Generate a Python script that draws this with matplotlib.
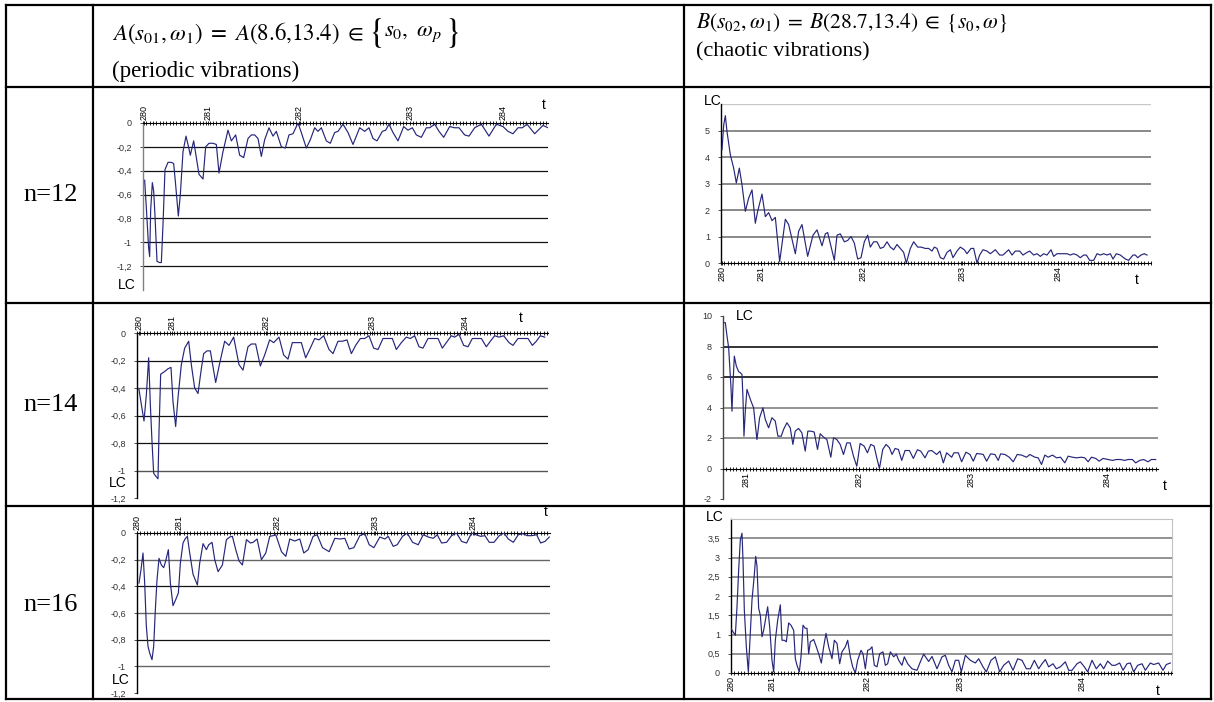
import matplotlib
matplotlib.use("Agg")
import matplotlib.pyplot as plt
from matplotlib.ticker import MultipleLocator, FixedLocator, FuncFormatter

W, H = 1214, 702
LINE = "#26267a"

plt.rcParams['mathtext.fontset'] = 'stix'
plt.rcParams['font.family'] = ['Liberation Sans', 'DejaVu Sans']

# ---- data: sample index along the category axis and LC value ----
# row n=12, periodic (A)
a12_k = [0.5, 1.0, 1.7, 2.0, 2.3, 2.8, 3.2, 3.6, 4.2, 5.0,
         5.5, 6.0, 6.6, 7.5, 8.5, 9.2, 9.8, 10.6, 11.2, 12.0,
         12.9, 13.5, 14.2, 15.2, 16.0, 16.8, 18.0, 18.8, 19.8, 21.0,
         22.0, 22.8, 24.0, 25.5, 26.5, 27.8, 29.0, 30.2, 31.5, 32.5,
         33.5, 34.5, 35.5, 36.5, 37.8, 39.0, 40.0, 41.5, 42.7, 43.8,
         45.0, 46.5, 47.5, 49.0, 50.2, 51.5, 52.5, 53.5, 55.0, 56.2,
         57.5, 58.5, 60.0, 61.5, 63.0, 65.0, 66.5, 67.8, 69.0, 70.2,
         71.8, 72.8, 73.8, 75.0, 76.5, 78.2, 79.5, 80.8, 82.0, 83.5,
         85.0, 86.0, 87.5, 88.8, 90.2, 92.0, 93.5, 94.8, 96.5, 97.8,
         99.5, 101.5, 103.8, 106.0, 108.0, 109.5, 111.0, 112.5, 113.8, 115.2,
         117.5, 120.0, 121.5]
a12_lc = [-0.48, -0.71, -1.05, -1.12, -0.73, -0.50, -0.57, -0.78, -1.16, -1.17,
          -1.17, -0.85, -0.39, -0.33, -0.33, -0.34, -0.52, -0.78, -0.60, -0.24,
          -0.11, -0.18, -0.27, -0.15, -0.29, -0.43, -0.47, -0.20, -0.17, -0.17,
          -0.18, -0.42, -0.24, -0.06, -0.15, -0.10, -0.27, -0.29, -0.13, -0.10,
          -0.10, -0.13, -0.28, -0.14, -0.04, -0.11, -0.07, -0.20, -0.21, -0.10,
          -0.09, 0.0, -0.08, -0.21, -0.14, -0.04, -0.07, -0.04, -0.15, -0.17,
          -0.08, -0.07, -0.01, -0.08, -0.18, -0.04, -0.07, -0.04, -0.13, -0.15,
          -0.07, -0.06, -0.01, -0.08, -0.15, -0.03, -0.06, -0.04, -0.10, -0.12,
          -0.04, -0.04, -0.01, -0.07, -0.12, -0.03, -0.04, -0.04, -0.10, -0.11,
          -0.04, -0.01, -0.11, -0.01, -0.03, -0.07, -0.09, -0.04, -0.04, -0.01,
          -0.09, -0.02, -0.04]
a12_tick_k = [0.2, 19.5, 46.7, 80.0, 108.0]

# row n=12, chaotic (B)
b12_k = [0.3, 0.8, 1.3, 1.8, 2.8, 3.8, 4.6, 5.5, 6.3, 7.3,
         8.3, 9.3, 10.3, 11.0, 12.3, 13.3, 14.3, 15.3, 16.3, 17.6,
         19.3, 20.3, 22.3, 23.3, 24.3, 26.0, 27.6, 28.8, 30.3, 31.3,
         32.0, 34.0, 34.8, 35.8, 37.0, 38.0, 39.0, 40.0, 41.0, 42.0,
         43.0, 44.0, 44.8, 45.8, 46.8, 47.8, 48.8, 49.8, 50.8, 51.8,
         52.8, 53.8, 54.8, 55.6, 56.8, 57.8, 59.0, 60.0, 61.3, 62.3,
         63.3, 64.0, 64.8, 65.8, 66.8, 67.8, 68.8, 69.6, 70.8, 71.8,
         73.0, 73.8, 75.0, 75.8, 76.8, 77.6, 78.6, 79.8, 80.8, 82.3,
         83.6, 84.6, 86.3, 87.3, 88.3, 89.6, 90.6, 91.8, 92.6, 93.8,
         94.8, 95.8, 96.8, 97.8, 99.0, 99.8, 100.8, 102.3, 103.8, 104.8,
         105.8, 106.8, 107.8, 108.8, 109.6, 110.6, 111.8, 112.8, 113.8, 114.8,
         115.8, 116.8, 117.6, 118.6, 119.8, 121.3, 122.3, 123.6, 124.3, 125.0,
         126.0, 127.0, 127.8]
b12_lc = [4.27, 5.2, 5.56, 4.96, 4.08, 3.58, 3.02, 3.58, 2.95, 1.95,
          2.45, 2.76, 1.5, 1.95, 2.6, 1.75, 1.9, 1.6, 1.72, 0.05,
          1.65, 1.45, 0.35, 1.2, 1.45, 0.25, 1.05, 1.25, 0.65, 1.1,
          1.15, 0.1, 1.05, 1.1, 0.8, 0.85, 1.0, 0.75, 0.15, 0.2,
          0.8, 1.05, 0.6, 0.8, 0.8, 0.55, 0.6, 0.8, 0.6, 0.5,
          0.7, 0.55, 0.4, 0.0, 0.55, 0.8, 0.6, 0.6, 0.55, 0.55,
          0.45, 0.6, 0.55, 0.2, 0.15, 0.4, 0.5, 0.2, 0.45, 0.6,
          0.5, 0.35, 0.55, 0.55, 0.0, 0.3, 0.5, 0.45, 0.35, 0.5,
          0.3, 0.3, 0.5, 0.3, 0.45, 0.45, 0.3, 0.4, 0.45, 0.3,
          0.35, 0.25, 0.35, 0.3, 0.5, 0.25, 0.35, 0.35, 0.35, 0.3,
          0.35, 0.3, 0.2, 0.3, 0.3, 0.1, 0.1, 0.35, 0.3, 0.35,
          0.3, 0.35, 0.15, 0.35, 0.3, 0.15, 0.1, 0.3, 0.3, 0.2,
          0.3, 0.35, 0.3]
b12_tick_k = [0.3, 12.1, 42.6, 72.3, 101.1]

# row n=14, periodic (A)
a14_k = [0.6, 1.3, 2.1, 2.8, 3.5, 4.0, 4.5, 5.0, 5.6, 6.3,
         6.6, 7.1, 8.3, 9.3, 10.2, 10.8, 11.6, 12.3, 13.3, 14.3,
         15.5, 16.3, 17.3, 18.3, 19.3, 20.0, 21.0, 22.0, 23.6, 24.8,
         26.3, 27.6, 29.0, 30.6, 31.8, 33.3, 34.3, 35.6, 37.0, 38.3,
         39.8, 41.0, 42.6, 44.0, 45.3, 46.6, 47.8, 49.3, 50.6, 52.0,
         53.3, 54.6, 56.0, 57.6, 58.8, 60.3, 61.6, 63.0, 64.3, 65.6,
         67.0, 68.3, 69.6, 71.0, 72.3, 73.8, 75.3, 76.6, 77.8, 79.3,
         80.8, 82.0, 83.3, 84.6, 85.8, 87.3, 88.8, 90.3, 91.6, 92.8,
         94.3, 95.3, 96.6, 98.0, 99.3, 100.6, 101.8, 103.3, 104.8, 106.0,
         107.3, 108.6, 110.0, 111.6, 112.8, 114.3, 115.8, 117.3, 118.6, 119.8,
         121.0, 122.3]
a14_lc = [-0.41, -0.52, -0.64, -0.45, -0.18, -0.52, -0.79, -1.02, -1.04, -1.06,
          -0.72, -0.30, -0.28, -0.26, -0.25, -0.50, -0.68, -0.47, -0.23, -0.11,
          -0.06, -0.23, -0.40, -0.44, -0.26, -0.15, -0.13, -0.13, -0.36, -0.22,
          -0.06, -0.09, -0.03, -0.23, -0.27, -0.10, -0.08, -0.08, -0.24, -0.16,
          -0.05, -0.07, -0.03, -0.16, -0.19, -0.07, -0.07, -0.07, -0.18, -0.11,
          -0.04, -0.05, -0.02, -0.12, -0.15, -0.06, -0.06, -0.05, -0.15, -0.09,
          -0.04, -0.04, -0.02, -0.11, -0.12, -0.04, -0.04, -0.04, -0.12, -0.07,
          -0.03, -0.04, -0.02, -0.10, -0.11, -0.04, -0.04, -0.04, -0.11, -0.07,
          -0.02, -0.03, -0.01, -0.09, -0.10, -0.04, -0.04, -0.04, -0.10, -0.06,
          -0.02, -0.03, -0.02, -0.07, -0.09, -0.04, -0.04, -0.04, -0.09, -0.06,
          -0.02, -0.03]
a14_tick_k = [0.6, 10.6, 38.8, 70.6, 98.3]

# row n=14, chaotic (B)
b14_k = [0.2, 0.7, 1.2, 1.7, 2.0, 2.4, 2.7, 3.0, 3.4, 4.0,
         4.7, 5.2, 5.7, 6.0, 6.3, 6.7, 7.2, 7.7, 8.4, 9.2,
         9.7, 10.2, 11.0, 12.0, 12.7, 13.7, 14.7, 15.7, 16.5, 17.5,
         18.2, 19.2, 20.2, 21.0, 21.7, 22.7, 23.7, 24.7, 25.5, 26.4,
         27.4, 28.4, 29.2, 30.2, 31.2, 32.4, 33.2, 34.2, 35.2, 36.2,
         37.2, 38.2, 39.2, 40.2, 41.2, 42.4, 43.4, 44.4, 45.4, 46.2,
         47.0, 48.0, 49.0, 50.0, 50.8, 51.7, 52.7, 53.7, 54.7, 56.0,
         57.2, 58.4, 59.4, 60.7, 61.7, 62.7, 64.2, 65.2, 66.2, 67.2,
         68.7, 69.4, 70.7, 71.7, 73.0, 74.2, 75.2, 76.2, 77.2, 78.2,
         79.2, 80.4, 81.7, 82.7, 83.4, 84.7, 86.0, 87.2, 88.4, 89.7,
         91.2, 92.2, 93.7, 94.7, 95.7, 96.7, 97.7, 99.0, 100.2, 101.4,
         102.7, 103.7, 105.0, 106.2, 107.7, 108.7, 109.7, 110.7, 112.0, 113.0,
         114.2, 115.7, 117.0, 118.2, 119.4, 120.7, 121.7, 123.0, 124.0, 125.2,
         126.4, 127.7, 128.7, 130.0]
b14_lc = [9.56, 9.56, 8.69, 7.92, 6.83, 5.30, 3.76, 5.51, 7.37, 6.72,
          6.35, 6.28, 6.17, 4.64, 2.12, 3.76, 5.19, 4.86, 4.42, 3.98,
          2.89, 1.90, 3.33, 3.98, 3.22, 2.67, 3.33, 3.11, 2.12, 2.12,
          2.56, 3.00, 2.67, 1.58, 2.45, 2.63, 2.34, 1.14, 2.45, 2.45,
          2.39, 1.25, 2.28, 2.06, 1.90, 0.74, 2.01, 1.90, 1.58, 0.92,
          1.68, 1.68, 0.81, 0.15, 1.64, 1.47, 1.03, 1.58, 1.47, 0.70,
          0.00, 1.25, 1.58, 1.36, 0.92, 1.31, 1.25, 0.53, 1.18, 1.18,
          0.66, 1.23, 1.14, 0.70, 1.14, 1.18, 0.92, 1.14, 0.37, 1.03,
          0.74, 1.03, 1.03, 0.44, 1.07, 0.92, 0.48, 0.98, 0.96, 0.92,
          0.48, 0.96, 0.92, 0.53, 0.96, 0.92, 0.74, 0.44, 0.92, 0.88,
          0.74, 0.92, 0.74, 0.70, 0.26, 0.88, 0.74, 0.88, 0.70, 0.74,
          0.37, 0.81, 0.74, 0.70, 0.74, 0.70, 0.44, 0.74, 0.66, 0.48,
          0.66, 0.59, 0.53, 0.59, 0.59, 0.53, 0.59, 0.59, 0.37, 0.53,
          0.59, 0.44, 0.59, 0.59]
b14_tick_k = [7.0, 40.9, 74.5, 115.4]

# row n=16, periodic (A)
a16_k = [0.6, 1.2, 1.8, 2.3, 2.8, 3.3, 3.8, 4.5, 5.0, 5.5,
         6.0, 6.6, 7.3, 8.0, 8.6, 9.4, 10.0, 10.8, 11.6, 12.4,
         13.0, 13.8, 14.4, 15.1, 15.8, 16.8, 18.1, 18.8, 19.8, 20.8,
         21.5, 22.5, 23.3, 24.3, 25.6, 26.8, 27.8, 28.6, 29.6, 30.6,
         31.6, 32.8, 34.0, 34.8, 36.0, 37.3, 38.6, 39.8, 40.8, 41.6,
         43.3, 44.6, 45.8, 47.3, 48.8, 50.0, 51.3, 52.8, 54.0, 55.6,
         57.6, 59.3, 60.8, 62.3, 63.6, 65.0, 66.8, 68.3, 69.6, 71.0,
         72.8, 74.3, 75.3, 76.8, 78.0, 79.6, 81.0, 82.6, 84.3, 85.8,
         87.3, 88.8, 90.0, 91.3, 92.8, 94.3, 95.8, 97.3, 98.8, 100.3,
         101.6, 103.0, 104.3, 105.6, 107.0, 108.6, 110.0, 111.3, 112.8, 114.3,
         115.6, 117.0, 118.3, 119.8, 121.0, 122.3, 123.6]
a16_lc = [-0.375, -0.275, -0.15, -0.375, -0.70, -0.85, -0.90, -0.95, -0.85, -0.575,
          -0.35, -0.19, -0.24, -0.26, -0.21, -0.125, -0.375, -0.545, -0.50, -0.45,
          -0.225, -0.075, -0.045, -0.025, -0.15, -0.31, -0.39, -0.225, -0.08, -0.125,
          -0.088, -0.07, -0.20, -0.29, -0.24, -0.05, -0.03, -0.025, -0.125, -0.21,
          -0.24, -0.05, -0.075, -0.07, -0.045, -0.20, -0.15, -0.025, -0.02, -0.013,
          -0.14, -0.175, -0.045, -0.06, -0.045, -0.15, -0.125, -0.025, -0.013, -0.11,
          -0.14, -0.04, -0.045, -0.04, -0.12, -0.11, -0.02, -0.005, -0.088, -0.11,
          -0.03, -0.045, -0.025, -0.10, -0.088, -0.025, 0.0, -0.07, -0.088, -0.013,
          -0.03, -0.04, -0.013, -0.075, -0.07, -0.02, 0.0, -0.063, -0.075, 0.0,
          -0.013, -0.025, -0.02, -0.07, -0.07, -0.02, 0.0, -0.045, -0.07, -0.013,
          -0.005, -0.02, -0.02, -0.013, -0.075, -0.063, -0.03]
a16_tick_k = [0.1, 12.6, 42.0, 71.3, 100.6]

# row n=16, chaotic (B)
b16_k = [0.0, 0.6, 1.3, 1.8, 2.3, 2.8, 3.3, 3.6, 4.0, 4.6,
         5.2, 5.8, 6.3, 7.0, 7.4, 7.8, 8.3, 8.8, 9.3, 9.8,
         10.3, 11.0, 11.6, 12.3, 12.8, 13.3, 14.0, 14.8, 15.3, 16.0,
         16.6, 17.3, 18.0, 18.8, 19.3, 19.8, 20.5, 21.0, 21.6, 22.3,
         22.8, 23.3, 23.8, 24.8, 25.6, 26.3, 27.1, 27.8, 28.5, 29.3,
         30.3, 31.0, 31.8, 32.6, 33.3, 34.3, 35.0, 35.8, 36.5, 37.3,
         38.0, 39.0, 39.6, 40.3, 41.0, 41.6, 42.3, 43.0, 43.8, 44.6,
         45.6, 46.3, 47.0, 47.8, 48.8, 49.6, 50.3, 51.3, 52.0, 53.0,
         54.3, 55.8, 56.8, 57.8, 59.3, 60.3, 61.8, 63.3, 64.3, 65.3,
         66.3, 67.3, 68.3, 69.1, 70.3, 71.8, 73.3, 74.3, 75.6, 76.6,
         78.0, 79.3, 80.6, 81.8, 83.3, 84.6, 86.0, 87.3, 88.6, 89.8,
         91.0, 92.3, 93.3, 94.3, 95.3, 96.6, 97.6, 98.8, 100.3, 101.3,
         102.3, 103.8, 104.8, 106.0, 107.0, 108.3, 109.6, 110.8, 111.8, 113.0,
         114.3, 115.3, 116.6, 117.6, 118.8, 119.8, 120.8, 122.0, 123.3, 124.3,
         125.8, 126.8, 128.3, 129.6, 130.6, 131.8]
b16_lc = [1.16, 1.07, 0.98, 1.72, 2.68, 3.46, 3.63, 2.94, 1.63, 0.68,
          0.03, 1.03, 1.90, 2.55, 3.03, 2.77, 1.68, 1.50, 0.94, 1.11,
          1.37, 1.72, 1.20, 0.33, 0.03, 0.85, 1.37, 1.77, 0.85, 0.85,
          0.81, 1.30, 1.24, 1.11, 0.37, 0.20, 0.03, 0.42, 1.24, 1.16,
          1.16, 0.50, 0.81, 0.87, 0.68, 0.50, 0.26, 0.68, 1.03, 0.68,
          0.37, 0.85, 0.77, 0.24, 0.55, 0.68, 0.85, 0.42, 0.16, 0.00,
          0.33, 0.59, 0.50, 0.11, 0.59, 0.61, 0.68, 0.20, 0.16, 0.50,
          0.55, 0.20, 0.24, 0.55, 0.42, 0.49, 0.33, 0.20, 0.42, 0.24,
          0.11, 0.07, 0.29, 0.49, 0.30, 0.43, 0.11, 0.42, 0.46, 0.20,
          0.03, 0.33, 0.33, 0.03, 0.46, 0.33, 0.26, 0.37, 0.16, 0.03,
          0.33, 0.42, 0.03, 0.20, 0.31, 0.07, 0.37, 0.33, 0.11, 0.11,
          0.33, 0.11, 0.24, 0.35, 0.16, 0.24, 0.11, 0.16, 0.29, 0.07,
          0.07, 0.24, 0.29, 0.16, 0.03, 0.33, 0.11, 0.24, 0.11, 0.31,
          0.20, 0.20, 0.26, 0.07, 0.24, 0.26, 0.03, 0.20, 0.24, 0.07,
          0.26, 0.22, 0.26, 0.07, 0.22, 0.26]
b16_tick_k = [0.0, 12.3, 40.8, 68.8, 105.3]

t_labels = ["280", "281", "282", "283", "284"]
row_labels = ["n=12", "n=14", "n=16"]


def box(x0, y0, x1, y1):
    return [x0 / W, 1 - y1 / H, (x1 - x0) / W, (y1 - y0) / H]


def comma(v, _p):
    s = "%g" % round(v, 2)
    if s == "-0":
        s = "0"
    return s.replace(".", ",")


def chain_text(fig, ax, x, y, pieces):
    # put text pieces one after another, left to right
    renderer = fig.canvas.get_renderer()
    for s, size, gap in pieces:
        x += gap
        t = ax.text(x, y, s, fontsize=size, ha="left", va="center")
        x = t.get_window_extent(renderer).x1


def panel(fig, rect, k, lc, xmax, ylim, yticks, grid, tick_k, tlabels,
          top, lc_xy, t_xy, yaxis_color="#000000", frame=False):
    ax = fig.add_axes(box(*rect))
    ax.set_facecolor("white")
    for y, c, w in grid:
        ax.axhline(y, color=c, lw=w, zorder=1)
    ax.plot(k, lc, color=LINE, lw=0.85, zorder=3)
    ax.set_xlim(0, xmax)
    ax.set_ylim(*ylim)

    ax.yaxis.set_major_locator(FixedLocator(yticks))
    ax.yaxis.set_major_formatter(FuncFormatter(comma))
    ax.tick_params(axis="y", labelsize=6.5, length=2, width=0.6,
                   colors="#333333", pad=6)
    ax.spines["left"].set_color(yaxis_color)
    ax.spines["left"].set_linewidth(1.0)

    ax.xaxis.set_major_locator(FixedLocator(tick_k))
    ax.xaxis.set_major_formatter(FuncFormatter(lambda v, p: tlabels[p] if p < len(tlabels) else ""))
    ax.xaxis.set_minor_locator(MultipleLocator(1))
    ax.tick_params(axis="x", which="both", direction="inout", length=3,
                   width=0.6, labelsize=6.5, labelrotation=90, pad=1)
    if top:
        ax.xaxis.tick_top()
        ax.spines["bottom"].set_visible(False)
        ax.spines["top"].set_linewidth(0.8)
    else:
        ax.spines["bottom"].set_position(("data", 0))
        ax.spines["bottom"].set_linewidth(0.8)
        ax.spines["top"].set_visible(False)
    if frame:
        ax.spines["top"].set_visible(True)
        ax.spines["top"].set_color("#c0c0c0")
        ax.spines["right"].set_color("#c0c0c0")
    else:
        ax.spines["right"].set_visible(False)

    ax.text(lc_xy[0], lc_xy[1], "LC", transform=ax.transAxes, fontsize=10,
            ha="center", va="center")
    ax.text(t_xy[0], t_xy[1], "t", transform=ax.transAxes, fontsize=10,
            ha="center", va="center")
    return ax


def main():
    fig = plt.figure(figsize=(W / 100, H / 100), dpi=100)
    fig.patch.set_facecolor("white")

    # table frame and header text
    bg = fig.add_axes([0, 0, 1, 1])
    bg.set_xlim(0, W)
    bg.set_ylim(H, 0)
    bg.axis("off")
    xs = [6, 93, 684, 1211]
    ys = [5, 87, 303, 506, 699]
    for x in xs:
        bg.plot([x, x], [ys[0], ys[-1]], color="black", lw=1.6,
                solid_capstyle="projecting")
    for y in ys:
        bg.plot([xs[0], xs[-1]], [y, y], color="black", lw=1.6,
                solid_capstyle="projecting")

    serif = ["Liberation Serif", "DejaVu Serif"]
    chain_text(fig, bg, 112, 33, [
        (r"$A(s_{01},\omega_1)\ =\ A(8.6{,}13.4)\ \in$", 16.5, 0),
        (r"$\{$", 25, 4),
        (r"$s_0,\ \omega_p$", 16.5, 2),
        (r"$\}$", 25, 2),
    ])
    bg.text(112, 71, "(periodic vibrations)", family=serif, fontsize=16.5,
            ha="left", va="center")
    bg.text(696, 22, r"$B(s_{02},\omega_1)\;=\;B(28.7{,}13.4)\;\in\;\{s_0,\omega\}$",
            fontsize=15.5, ha="left", va="center")
    bg.text(696, 52, "(chaotic vibrations)", family=serif, fontsize=16,
            ha="left", va="center")
    for lab, yc in zip(row_labels, [195, 405, 605]):
        bg.text(51, yc, lab, family=serif, fontsize=19, ha="center", va="center")

    blk = "#111111"
    gry = "#808080"

    # n=12
    panel(fig, (143, 123, 548, 290), a12_k, a12_lc, 121.5, (-1.4, 0),
          [0, -0.2, -0.4, -0.6, -0.8, -1.0, -1.2],
          [(v, blk, 0.9) for v in [-0.2, -0.4, -0.6, -0.8, -1.0, -1.2]],
          a12_tick_k, t_labels, True, (-0.04, 0.03), (0.99, 1.11),
          yaxis_color=gry)
    panel(fig, (721, 104, 1151, 263), b12_k, b12_lc, 129.0, (0, 6),
          [0, 1, 2, 3, 4, 5],
          [(v, gry, 1.3) for v in [1, 2, 3, 4, 5]] + [(6, "#c8c8c8", 1.0)],
          b12_tick_k, t_labels, False, (-0.02, 1.02), (0.967, -0.11))

    # n=14
    panel(fig, (137, 333, 548, 498), a14_k, a14_lc, 123.3, (-1.2, 0),
          [0, -0.2, -0.4, -0.6, -0.8, -1.0, -1.2],
          [(-0.2, blk, 0.9), (-0.4, "#555555", 1.0), (-0.6, blk, 0.9),
           (-0.8, blk, 0.9), (-1.0, "#555555", 1.0)],
          a14_tick_k, t_labels, True, (-0.046, 0.09), (0.934, 1.09))
    panel(fig, (723, 316, 1158, 499), b14_k, b14_lc, 130.7, (-2, 10),
          [-2, 0, 2, 4, 6, 8, 10],
          [(2, gry, 1.2), (4, gry, 1.2), (6, blk, 1.2), (8, blk, 1.2)],
          b14_tick_k, t_labels[1:], False, (0.05, 1.0), (1.015, 0.07),
          yaxis_color="#444444")

    # n=16
    panel(fig, (137, 533, 550, 693), a16_k, a16_lc, 123.8, (-1.2, 0),
          [0, -0.2, -0.4, -0.6, -0.8, -1.0, -1.2],
          [(-0.2, "#666666", 1.0), (-0.4, blk, 0.9), (-0.6, "#666666", 1.0),
           (-0.8, blk, 0.9), (-1.0, "#666666", 1.0)],
          a16_tick_k, t_labels, True, (-0.04, 0.08), (0.99, 1.13))
    panel(fig, (731, 519, 1172, 673), b16_k, b16_lc, 132.3, (0, 4),
          [0, 0.5, 1, 1.5, 2, 2.5, 3, 3.5],
          [(v, gry, 1.2) for v in [0.5, 1, 1.5, 2, 2.5, 3, 3.5]],
          b16_tick_k, t_labels, False, (-0.036, 1.01), (0.968, -0.12),
          frame=True)

    fig.savefig("out.png", dpi=100, facecolor="white")


if __name__ == "__main__":
    main()
